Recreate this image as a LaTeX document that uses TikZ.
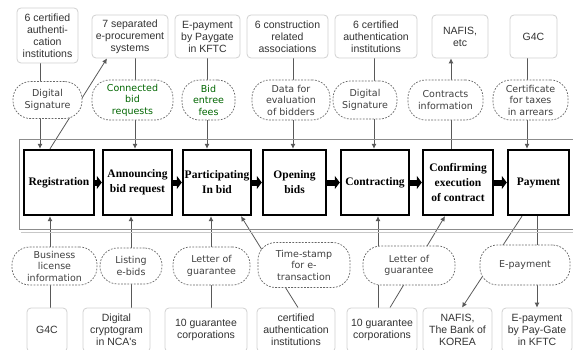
\documentclass[tikz,border=0pt]{standalone}
\usepackage{fontspec}
\newfontfamily\dvs{DejaVu Sans}
\newfontfamily\lsans{Liberation Sans}
\newfontfamily\lserif{Liberation Serif}
\usetikzlibrary{arrows.meta}
\pgfdeclarelayer{bg}
\pgfsetlayers{bg,main}
\begin{document}
\begin{tikzpicture}[x=1pt,y=-1pt,
 topbox/.style={draw=black!18, line width=0.8pt, rounded corners=4pt, fill=white, align=center, font=\lsans\fontsize{10.5}{12}\selectfont, text=black!80, inner sep=1pt},
 ell/.style={draw=black!60, dash pattern=on 1.8pt off 1.4pt, line width=0.7pt, rounded corners=17.5pt, fill=white, align=center, font=\dvs\fontsize{9.5}{11.5}\selectfont, text=black!75, inner sep=1pt},
 grn/.style={text=green!40!black},
 mainbox/.style={draw=black, line width=2.4pt, fill=white, align=center, font=\lserif\bfseries\fontsize{11.5}{15}\selectfont, inner sep=0pt},
 conn/.style={draw=black!65, line width=0.8pt},
 arr/.style={conn, -{Latex[length=5pt,width=5pt]}},
 blockarr/.style={line width=6pt, -{Triangle[length=5pt,width=13pt]}},
]
\useasboundingbox (0,0) rectangle (573,350);

% frame
\draw[black!45, line width=0.9pt] (575,139) -- (19,139) -- (19,229) -- (575,229);
\draw[black!22, line width=0.8pt] (21,232) -- (575,232);

% top boxes
\node[topbox, minimum width=61pt, minimum height=55pt] (t1) at (47.5,35.5) {6 certified\\authenti-\\cation\\institutions};
\node[topbox, minimum width=76pt, minimum height=43pt] (t2) at (130,36.5) {7 separated\\e-procurement\\systems};
\node[topbox, minimum width=65pt, minimum height=43pt] (t3) at (207.5,36.5) {E-payment\\by Paygate\\in KFTC};
\node[topbox, minimum width=81pt, minimum height=43pt] (t4) at (287.5,36.5) {6 construction\\related\\associations};
\node[topbox, minimum width=82pt, minimum height=43pt] (t5) at (376,36.5) {6 certified\\authentication\\institutions};
\node[topbox, minimum width=56pt, minimum height=43pt] (t6) at (460,36.5) {NAFIS,\\etc};
\node[topbox, minimum width=47pt, minimum height=43pt] (t7) at (533.5,36.5) {G4C};

% upper dashed nodes
\node[ell, minimum width=69pt, minimum height=37pt] (e1) at (47.5,100) {Digital\\Signature};
\node[ell, grn, minimum width=81pt, minimum height=40pt] (e2) at (132.5,100) {Connected\\bid\\requests};
\node[ell, grn, minimum width=53pt, minimum height=40pt] (e3) at (208.5,100) {Bid\\entree\\fees};
\node[ell, minimum width=78pt, minimum height=40pt] (e4) at (291,100) {Data for\\evaluation\\of bidders};
\node[ell, minimum width=64pt, minimum height=38pt] (e5) at (365,100) {Digital\\Signature};
\node[ell, minimum width=75pt, minimum height=40pt] (e6) at (445.5,100) {Contracts\\information};
\node[ell, minimum width=75pt, minimum height=40pt] (e7) at (530.5,100) {Certificate\\for taxes\\in arrears};

% main process boxes
\node[mainbox, minimum width=70pt, minimum height=65pt] (b1) at (59,182.5) {Registration};
\node[mainbox, minimum width=69pt, minimum height=65pt] (b2) at (137.5,182.5) {Announcing\\bid request};
\node[mainbox, minimum width=68pt, minimum height=65pt] (b3) at (217,182.5) {Participating\\In bid};
\node[mainbox, minimum width=63pt, minimum height=65pt] (b4) at (294.5,182.5) {Opening\\bids};
\node[mainbox, minimum width=68pt, minimum height=65pt] (b5) at (375,182.5) {Contracting};
\node[mainbox, minimum width=70pt, minimum height=65pt] (b6) at (458,182.5) {Confirming\\execution\\of contract};
\node[mainbox, minimum width=61pt, minimum height=65pt] (b7) at (538.5,182.5) {Payment};

% lower dashed nodes
\node[ell, minimum width=85pt, minimum height=38pt] (f1) at (54.5,266) {Business\\license\\information};
\node[ell, minimum width=62pt, minimum height=36pt] (f2) at (131,266) {Listing\\e-bids};
\node[ell, minimum width=77pt, minimum height=38pt] (f3) at (211.5,266) {Letter of\\guarantee};
\node[ell, minimum width=92pt, minimum height=45pt] (f4) at (304,265) {Time-stamp\\for e-\\transaction};
\node[ell, minimum width=92pt, minimum height=39pt] (f5) at (409,265.5) {Letter of\\guarantee};
\node[ell, minimum width=90pt, minimum height=40pt] (f6) at (525,265) {E-payment};

% bottom boxes
\node[topbox, minimum width=40pt, minimum height=44pt] (g1) at (47,330) {G4C};
\node[topbox, minimum width=67pt, minimum height=44pt] (g2) at (116.5,330) {Digital\\cryptogram\\in NCA's};
\node[topbox, minimum width=82pt, minimum height=44pt] (g3) at (206,330) {10 guarantee\\corporations};
\node[topbox, minimum width=78pt, minimum height=44pt] (g4) at (296,330) {certified\\authentication\\institutions};
\node[topbox, minimum width=70pt, minimum height=44pt] (g5) at (382,330) {10 guarantee\\corporations};
\node[topbox, minimum width=69pt, minimum height=44pt] (g6) at (457.5,330) {NAFIS,\\The Bank of\\KOREA};
\node[topbox, minimum width=70pt, minimum height=44pt] (g7) at (537,330) {E-payment\\by Pay-Gate\\in KFTC};

% x positions of connectors
\coordinate (x40) at (40,0);
\coordinate (x50) at (50,0);
\coordinate (x107) at (107,0);
\coordinate (x131) at (131,0);
\coordinate (x135) at (135,0);
\coordinate (x207) at (207,0);
\coordinate (x211) at (211,0);
\coordinate (x241) at (241,0);
\coordinate (x293) at (293,0);
\coordinate (x298) at (298,0);
\coordinate (x374) at (374,0);
\coordinate (x378) at (378,0);
\coordinate (x390) at (390,0);
\coordinate (x445) at (445,0);
\coordinate (x451) at (451,0);
\coordinate (x462) at (462,0);
\coordinate (x522) at (522,0);
\coordinate (x527) at (527,0);
\coordinate (x537) at (537,0);

% block arrows
\draw[blockarr] (b1.east) -- (b2.west);
\draw[blockarr] (b2.east) -- (b3.west);
\draw[blockarr] (b3.east) -- (b4.west);
\draw[blockarr] (b4.east) -- (b5.west);
\draw[blockarr] (b5.east) -- (b6.west);
\draw[blockarr] (b6.east) -- (b7.west);

\begin{pgfonlayer}{bg}
% upper connectors (pass behind dashed nodes)
\draw[arr] (t1.south -| x40) -- (b1.north -| x40);
\draw[arr] (b1.north -| x50) -- (t2.south -| x107);
\draw[arr] (t2.south -| x135) -- (b2.north -| x135);
\draw[arr] (t3.south -| x207) -- (b3.north -| x207);
\draw[arr] (t4.south -| x293) -- (b4.north -| x293);
\draw[arr] (t5.south -| x374) -- (b5.north -| x374);
\draw[arr] (b6.north -| x451) -- (t6.south -| x451);
\draw[arr] (t7.south -| x527) -- (b7.north -| x527);
% lower connectors
\draw[arr] (g1.north -| x50) -- (b1.south -| x50);
\draw[arr] (g2.north -| x131) -- (b2.south -| x131);
\draw[arr] (g3.north -| x211) -- (b3.south -| x211);
\draw[arr] (g4.north -| x298) -- (b3.south -| x241);
\draw[arr] (g5.north -| x378) -- (b5.south -| x378);
\draw[arr] (g5.north -| x390) -- (b6.south -| x445);
\draw[arr] (b7.south -| x522) -- (g6.north -| x462);
\draw[arr] (b7.south -| x537) -- (g7.north -| x537);
\end{pgfonlayer}
\end{tikzpicture}
\end{document}
